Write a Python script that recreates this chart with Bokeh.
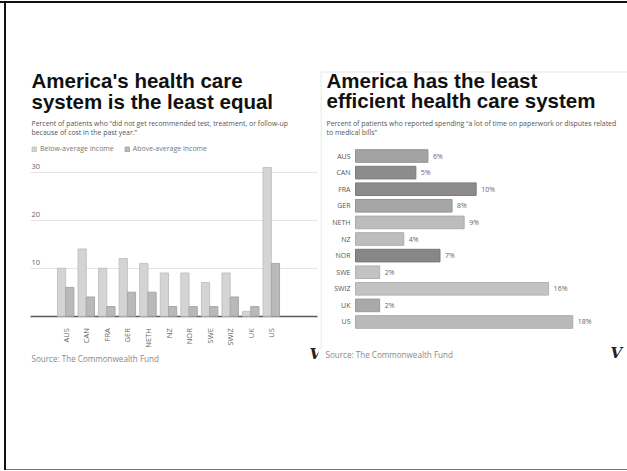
from math import pi
from bokeh.plotting import figure
from bokeh.models import (Label, Legend, LegendItem, FixedTicker, FactorRange,
                          Range1d, ColumnDataSource, BoxAnnotation, Grid, Div)
from bokeh.transform import dodge
from bokeh.core.properties import value
from bokeh.layouts import row, column
from bokeh.embed import file_html
from bokeh.resources import INLINE

# ---------------- data ----------------
countries = ["AUS", "CAN", "FRA", "GER", "NETH", "NZ", "NOR", "SWE", "SWIZ", "UK", "US"]
below_avg_income = [10, 14, 10, 12, 11, 9, 9, 7, 9, 1, 31]
above_avg_income = [6, 4, 2, 5, 5, 2, 2, 2, 4, 2, 11]
left_ticks = [10, 20, 30]
paperwork_pct = [6, 5, 10, 8, 9, 4, 7, 2, 16, 2, 18]

# ---------------- styles ----------------
bar_fill = ["#a3a3a3", "#8c8c8c", "#8c8c8c", "#a6a6a6", "#bcbcbc", "#bdbdbd",
            "#878787", "#c2c2c2", "#c3c3c3", "#a9a9a9", "#bababa"]
bar_line = ["#939393", "#7c7c7c", "#7c7c7c", "#969696", "#acacac", "#adadad",
            "#777777", "#b2b2b2", "#b3b3b3", "#999999", "#aaaaaa"]
SMALL = "Open Sans"
TITLE = "Liberation Sans"
H = 466


def lab(p, x, y, text, size, color="#555555", font=SMALL, style="normal",
        baseline="middle", align="left"):
    p.add_layout(Label(x=x, y=y, x_units="screen", y_units="screen", text=text,
                       text_font=font, text_font_size=size,
                       text_font_style=style, text_color=color,
                       text_baseline=baseline, text_align=align))


def cross_bound(grid, lo, hi):
    try:
        grid.cross_bounds = (lo, hi)
        return True
    except Exception:
        return False


# ================= left chart =================
p1 = figure(width=314, height=H,
            x_range=FactorRange(factors=countries, range_padding=0.3263),
            y_range=Range1d(-20.0625, 52.229),
            output_backend="svg", toolbar_location=None,
            min_border_left=12, min_border_right=2,
            min_border_top=62, min_border_bottom=57)
p1.outline_line_color = None
p1.background_fill_color = "white"
p1.border_fill_color = "white"
p1.xaxis.visible = False
p1.yaxis.visible = False
p1.xgrid.visible = False
p1.ygrid.visible = False

grid_lines = Grid(dimension=1, ticker=FixedTicker(ticks=left_ticks),
                  grid_line_color="#e4e4e4", grid_line_width=1)
base_line = Grid(dimension=1, ticker=FixedTicker(ticks=[0]),
                 grid_line_color="#5a5a5a", grid_line_width=1.5)
cross_bound(grid_lines, -1.21, 12.745)
cross_bound(base_line, -1.21, 12.745)
p1.add_layout(grid_lines)

src1 = ColumnDataSource(dict(country=countries, below=below_avg_income,
                             above=above_avg_income))
r_below = p1.vbar(x=dodge("country", -0.2, range=p1.x_range), top="below",
                  width=0.4, source=src1, fill_color="#d4d4d4",
                  line_color="#c2c2c2", line_width=1)
r_above = p1.vbar(x=dodge("country", 0.2, range=p1.x_range), top="above",
                  width=0.4, source=src1, fill_color="#b9b9b9",
                  line_color="#a8a8a8", line_width=1)
p1.add_layout(base_line)

p1.text(x="country", y=0, text="country", source=src1, angle=pi / 2,
        text_align="right", text_baseline="middle", y_offset=12,
        text_font=value(SMALL), text_font_size="7.5px", text_color="#666666")

for t in left_ticks:
    p1.add_layout(Label(x=13, y=t, x_units="screen", y_units="data", text=str(t),
                        text_font=SMALL, text_font_size="7.5px",
                        text_color="#666666", text_baseline="bottom", y_offset=3))

legend = Legend(items=[LegendItem(label="Below-average income", renderers=[r_below]),
                       LegendItem(label="Above-average income", renderers=[r_above])],
                location=(13, 259), orientation="horizontal",
                background_fill_alpha=0, border_line_color=None,
                label_text_font=SMALL, label_text_font_size="7px",
                label_text_color="#777777", glyph_width=6, glyph_height=6,
                label_height=7, label_standoff=3, spacing=10, padding=0,
                margin=0)
p1.add_layout(legend, "center")

lab(p1, 13, 332, "America's health care", "20.5px", "#111111", TITLE, "bold")
lab(p1, 13, 311, "system is the least equal", "20.5px", "#111111", TITLE, "bold")
lab(p1, 13, 289, "Percent of patients who \u201cdid not get recommended test, treatment, or follow-up",
    "6.9px", "#555555")
lab(p1, 13, 280.5, "because of cost in the past year.\u201d", "6.9px", "#555555")
lab(p1, 13, 54, "Source: The Commonwealth Fund", "8.1px", "#888888")
lab(p1, 291, 59, "V", "15px", "#222222", "DejaVu Serif", "bold italic")

# ================= right chart =================
p2 = figure(width=307, height=H,
            y_range=FactorRange(factors=countries[::-1], range_padding=0.9006),
            x_range=Range1d(-2.90, 22.535),
            output_backend="svg", toolbar_location=None,
            min_border_left=0, min_border_right=0,
            min_border_top=62, min_border_bottom=57)
p2.outline_line_color = None
p2.background_fill_color = "white"
p2.border_fill_color = "white"
p2.xaxis.visible = False
p2.yaxis.visible = False
p2.xgrid.visible = False
p2.ygrid.visible = False

src2 = ColumnDataSource(dict(country=countries, pct=paperwork_pct,
                             label=[f"{v}%" for v in paperwork_pct],
                             fill=bar_fill, line=bar_line))
p2.hbar(y="country", right="pct", left=0, height=0.76, source=src2,
        fill_color="fill", line_color="line", line_width=1)
p2.text(x="pct", y="country", text="label", source=src2, x_offset=5,
        text_baseline="middle", text_font=value(SMALL), text_font_size="7px",
        text_color="#666666")
p2.text(x=0, y="country", text="country", source=src2, x_offset=-5,
        text_align="right", text_baseline="middle", text_font=value(SMALL),
        text_font_size="7px", text_color="#555555")

# card edges (left and top)
p2.add_layout(BoxAnnotation(left=0, right=1, top=340, bottom=63,
                            left_units="screen", right_units="screen",
                            top_units="screen", bottom_units="screen",
                            fill_color="#e0e0e0", fill_alpha=1, line_color=None))
p2.add_layout(BoxAnnotation(left=0, right=307, top=341, bottom=340,
                            left_units="screen", right_units="screen",
                            top_units="screen", bottom_units="screen",
                            fill_color="#e6e6e6", fill_alpha=1, line_color=None))

lab(p2, 6, 332, "America has the least", "20.5px", "#111111", TITLE, "bold")
lab(p2, 6, 312, "efficient health care system", "20.5px", "#111111", TITLE, "bold")
lab(p2, 6, 289, "Percent of patients who reported spending \u201ca lot of time on paperwork or disputes related",
    "6.9px", "#555555")
lab(p2, 6, 280.5, "to medical bills\u201d", "6.9px", "#555555")
lab(p2, 5, 58, "Source: The Commonwealth Fund", "8.1px", "#888888")
lab(p2, 290, 60, "V", "15px", "#222222", "DejaVu Serif", "bold italic")

# ================= page frame =================
def bar_div(w, h, color=None):
    st = {"background-color": color} if color else {}
    return Div(text="", width=w, height=h, margin=0, styles=st)

layout = column(
    bar_div(627, 1),
    bar_div(627, 2, "#111111"),
    row(bar_div(4, H), bar_div(2, H, "#111111"), p1, p2, spacing=0),
    row(bar_div(4, 1), bar_div(2, 1, "#111111"), bar_div(621, 1, "#777777"), spacing=0),
    spacing=0,
)
open("out.html", "w").write(file_html(layout, INLINE))
